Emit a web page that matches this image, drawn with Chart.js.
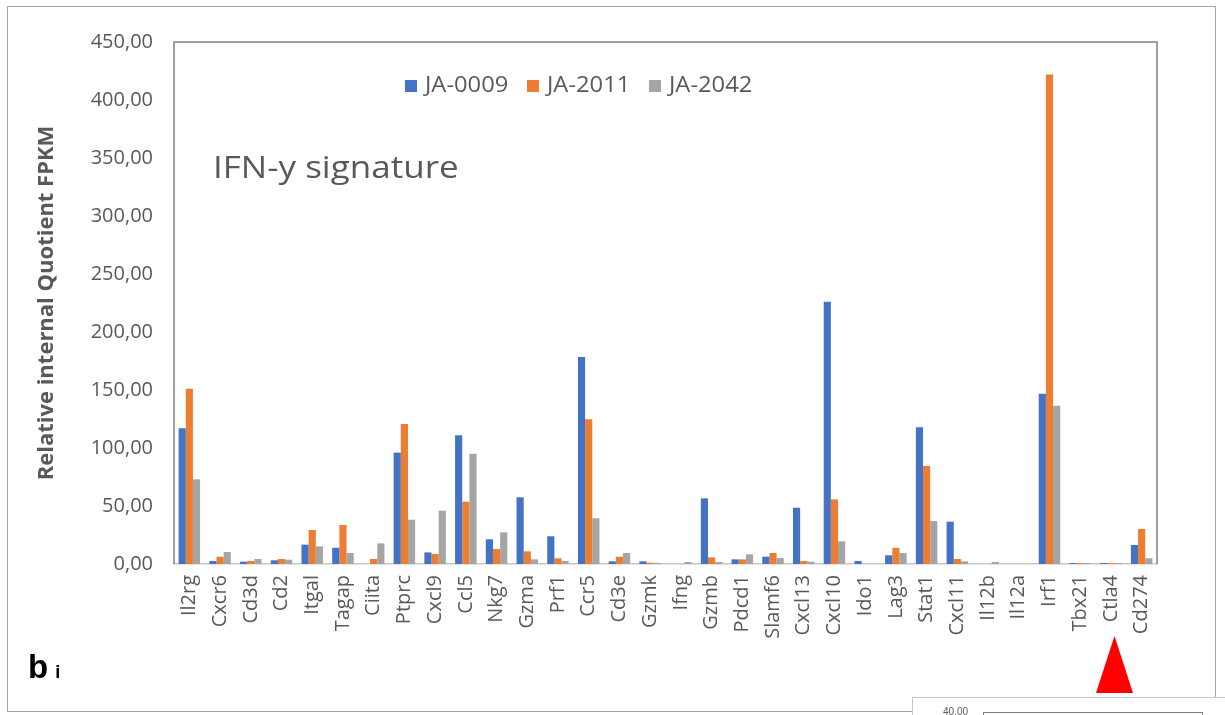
<!DOCTYPE html>
<html>
<head>
<meta charset="utf-8">
<script src="https://cdn.jsdelivr.net/npm/chart.js@4/dist/chart.umd.min.js"></script>
<style>
  html, body { margin: 0; padding: 0; background: #fff; }
  #wrap { position: relative; width: 1225px; height: 715px; overflow: hidden; font-family: "Open Sans", sans-serif; }
  #chart { position: absolute; left: 0; top: 0; }
  .frame { position: absolute; left: 7px; top: 6px; width: 1209px; height: 706px; border: 1px solid #a6a6a6; box-sizing: border-box; }
  .sig { position: absolute; left: 213px; top: 145px; font-size: 31px; color: #595959; white-space: nowrap; transform-origin: 0 0; transform: scaleX(1.13); }
  .legend { position: absolute; top: 0; left: 0; font-size: 21px; color: #595959; white-space: nowrap; }
  .legend .sw { position: absolute; top: 80px; width: 12px; height: 12px; }
  .legend .tx { position: absolute; top: 70px; transform-origin: 0 0; transform: scaleX(1.13); }
  .panel { position: absolute; left: 28px; top: 648px; font-family: "Liberation Sans", Arial, sans-serif; font-weight: bold; color: #000; white-space: nowrap; }
  .panel .b { font-size: 33px; }
  .panel .i { font-size: 18px; margin-left: 7px; }
  .arrow { position: absolute; left: 1096px; top: 636px; width: 37px; height: 57px; background: #ff0000; clip-path: polygon(50% 0, 100% 100%, 0 100%); }
  .inset { position: absolute; left: 912px; top: 697px; width: 320px; height: 40px; border: 1px solid #c8c8c8; background: #fff; box-sizing: border-box; }
  .inset .t { position: absolute; left: 30px; top: 8px; font-size: 10px; color: #595959; font-family: "Liberation Sans", Arial, sans-serif; }
  .inset .box { position: absolute; left: 70px; top: 14px; width: 220px; height: 30px; border: 1px solid #7f7f7f; box-sizing: border-box; }
</style>
</head>
<body>
<div id="wrap">
  <canvas id="chart" width="1225" height="715"></canvas>
  <div class="frame"></div>
  <div class="sig">IFN-y signature</div>
  <div class="legend" id="legend"></div>
  <div class="panel"><span class="b">b</span><span class="i">i</span></div>
  <div class="arrow"></div>
  <div class="inset"><span class="t">40,00</span><div class="box"></div></div>
</div>
<script>
// Genes of the IFN-gamma signature
const genes = ['Il2rg', 'Cxcr6', 'Cd3d', 'Cd2', 'Itgal', 'Tagap', 'Ciita', 'Ptprc', 'Cxcl9', 'Ccl5',
  'Nkg7', 'Gzma', 'Prf1', 'Ccr5', 'Cd3e', 'Gzmk', 'Ifng', 'Gzmb', 'Pdcd1', 'Slamf6',
  'Cxcl13', 'Cxcl10', 'Ido1', 'Lag3', 'Stat1', 'Cxcl11', 'Il12b', 'Il12a', 'Irf1', 'Tbx21',
  'Ctla4', 'Cd274'];

const seriesNames = ['JA-0009', 'JA-2011', 'JA-2042'];

// Relative internal quotient FPKM per sample
const ja0009 = [117, 2.6, 2, 3.2, 16.7, 14, 0, 96, 10, 111,
  21.3, 57.5, 23.9, 178.5, 2.3, 2.3, 0, 56.6, 4, 6.3,
  48.5, 226, 2.6, 7.5, 117.8, 36.5, 0, 0, 146.8, 0.8,
  0.8, 16.4];
const ja2011 = [151, 6.3, 2.6, 4.3, 29.3, 33.6, 4.3, 120.7, 8.6, 53.7,
  12.9, 10.9, 4.9, 124.7, 6.3, 1.1, 0, 5.7, 4, 9.5,
  2.6, 55.7, 0, 14, 84.5, 4.3, 0, 0, 422, 0.8,
  0.8, 30.2];
const ja2042 = [73, 10.3, 4.3, 3.7, 15.2, 9.5, 17.8, 38.2, 46, 95,
  27.3, 4, 2.6, 39.4, 9.5, 1, 1.7, 1.7, 8.3, 5.2,
  2, 19.5, 0, 9.5, 37, 2.3, 1.7, 0, 136.5, 0.8,
  0.8, 4.9];

const yTicks = [0, 50, 100, 150, 200, 250, 300, 350, 400, 450];

const colors = ['#4472C4', '#ED7D31', '#A5A5A5'];
const values = [ja0009, ja2011, ja2042];
const textGrey = '#595959';

// HTML legend: swatch and label positions
const legendSwatchX = [405, 527, 649];
const legendTextX = [425, 547, 669];
const legendEl = document.getElementById('legend');
seriesNames.forEach((name, i) => {
  const sw = document.createElement('span');
  sw.className = 'sw';
  sw.style.left = legendSwatchX[i] + 'px';
  sw.style.background = colors[i];
  legendEl.appendChild(sw);
  const tx = document.createElement('span');
  tx.className = 'tx';
  tx.style.left = legendTextX[i] + 'px';
  tx.textContent = name;
  legendEl.appendChild(tx);
});

// Left, top and right edges of the plot box
const plotBox = {
  id: 'plotBox',
  afterDraw(chart) {
    const { ctx, chartArea: a } = chart;
    ctx.save();
    ctx.strokeStyle = '#808080';
    ctx.lineWidth = 1.5;
    ctx.beginPath();
    ctx.moveTo(a.left, a.bottom);
    ctx.lineTo(a.left, a.top);
    ctx.lineTo(a.right, a.top);
    ctx.lineTo(a.right, a.bottom);
    ctx.stroke();
    ctx.restore();
  }
};

new Chart(document.getElementById('chart'), {
  type: 'bar',
  data: {
    labels: genes,
    datasets: seriesNames.map((name, i) => ({
      label: name,
      data: values[i],
      backgroundColor: colors[i],
      borderWidth: 0,
      categoryPercentage: 0.7,
      barPercentage: 1.0
    }))
  },
  options: {
    responsive: false,
    animation: false,
    layout: { padding: { left: 0, top: 42, right: 68, bottom: 0 } },
    plugins: {
      legend: { display: false },
      tooltip: { enabled: false }
    },
    scales: {
      x: {
        grid: { display: false, drawTicks: false },
        border: { display: true, color: '#c8c8c8', width: 1.5 },
        ticks: {
          autoSkip: false,
          minRotation: 90,
          maxRotation: 90,
          padding: 11,
          color: textGrey,
          font: { family: 'Open Sans', size: 20 }
        },
        afterFit(scale) { scale.height = 151; }
      },
      y: {
        min: 0,
        max: 450,
        afterBuildTicks(scale) { scale.ticks = yTicks.map(v => ({ value: v })); },
        grid: { display: false, drawTicks: false },
        border: { display: false },
        ticks: {
          padding: 21,
          color: textGrey,
          font: { family: 'Open Sans', size: 20 },
          callback: v => v.toFixed(2).replace('.', ',')
        },
        title: {
          display: true,
          text: 'Relative internal Quotient FPKM',
          color: textGrey,
          font: { family: 'Open Sans', size: 22, weight: 'bold' },
          padding: { top: 34, bottom: 0 }
        },
        afterFit(scale) { scale.width = 174; }
      }
    }
  },
  plugins: [plotBox]
});
</script>
</body>
</html>
